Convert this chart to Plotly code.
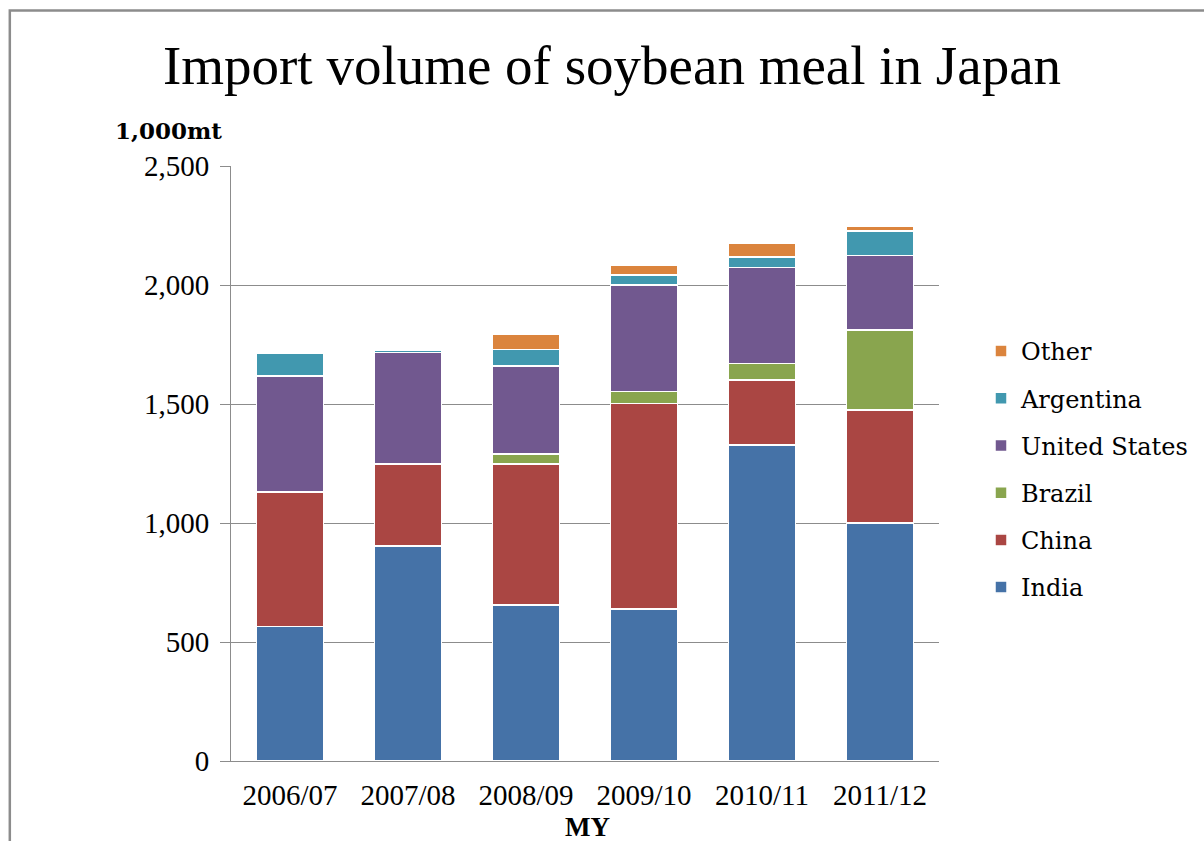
import plotly.graph_objects as go

years = ["2006/07", "2007/08", "2008/09", "2009/10", "2010/11", "2011/12"]
india = [565, 903, 655, 639, 1328, 1000]
china = [565, 345, 592, 864, 273, 475]
brazil = [0, 0, 42, 49, 70, 336]
united_states = [488, 468, 371, 448, 403, 312]
argentina = [95, 11, 70, 42, 44, 104]
other = [0, 0, 63, 42, 57, 18]

series = [
    ("India", india, "#4572A7"),
    ("China", china, "#AA4643"),
    ("Brazil", brazil, "#89A54E"),
    ("United States", united_states, "#71588F"),
    ("Argentina", argentina, "#4198AF"),
    ("Other", other, "#DB843D"),
]

SERIF = "Liberation Serif, Times New Roman, serif"
SERIF2 = "DejaVu Serif, serif"

fig = go.Figure()
n = len(series)
for i, (name, vals, col) in enumerate(series):
    fig.add_trace(go.Bar(
        x=years, y=vals, name=name, legendgroup=name, legendrank=n - i,
        marker=dict(color=col, line=dict(color="white", width=1.5)),
    ))

L, R, T, B = 231, 1204 - 940, 166, 841 - 761
PW, PH = 1204 - L - R, 841 - T - B

fig.update_layout(
    width=1204, height=841,
    margin=dict(l=L, r=R, t=T, b=B),
    barmode="stack", bargap=0.43,
    paper_bgcolor="white", plot_bgcolor="white",
    font=dict(family=SERIF, color="black"),
    title=dict(text="Import volume of soybean meal in Japan",
               font=dict(family=SERIF, size=55, color="black"),
               x=612 / 1204, xanchor="center", xref="container",
               y=1 - 65 / 841, yanchor="middle"),
    legend=dict(x=(981 - L) / PW, xanchor="left", y=(761 - 329) / PH, yanchor="top",
                traceorder="grouped", tracegroupgap=13,
                font=dict(family=SERIF2, size=24, color="black"),
                bgcolor="rgba(0,0,0,0)"),
    xaxis=dict(showline=True, linecolor="#8c8c8c", linewidth=1, ticks="",
               tickfont=dict(family=SERIF, size=29, color="black"),
               ticklabelstandoff=8, showgrid=False),
    yaxis=dict(range=[0, 2500], dtick=500, tickformat=",d",
               showline=True, linecolor="#8c8c8c", linewidth=1,
               ticks="outside", ticklen=10, tickcolor="#8c8c8c",
               showgrid=True, gridcolor="#8c8c8c", gridwidth=1,
               zeroline=False,
               tickfont=dict(family=SERIF, size=29, color="black"),
               ticklabelstandoff=5),
    annotations=[
        dict(text="<b>1,000mt</b>", xref="paper", yref="paper",
             x=(113 - L) / PW, xanchor="left", y=(761 - 130) / PH, yanchor="middle",
             showarrow=False, font=dict(family="DejaVu Serif, serif", size=23, color="black")),
        dict(text="<b>MY</b>", xref="paper", yref="paper",
             x=(588 - L) / PW, xanchor="center", y=(761 - 827) / PH, yanchor="middle",
             showarrow=False, font=dict(family=SERIF, size=27, color="black")),
    ],
    shapes=[
        dict(type="rect", xref="paper", yref="paper",
             x0=(9.5 - L) / PW, x1=(1215 - L) / PW,
             y0=(761 - 860) / PH, y1=(761 - 10.5) / PH,
             line=dict(color="#8c8c8c", width=2.5), fillcolor="rgba(0,0,0,0)", layer="below"),
    ],
)

fig.write_html("out.html")
